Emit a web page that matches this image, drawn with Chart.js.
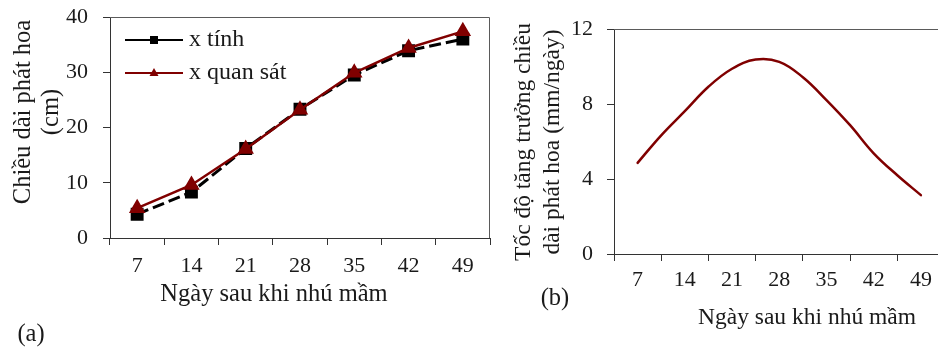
<!DOCTYPE html>
<html>
<head>
<meta charset="utf-8">
<script src="https://cdn.jsdelivr.net/npm/chart.js@4"></script>
<style>
  html, body { margin: 0; padding: 0; background: #fff; overflow: hidden; }
  body { width: 938px; height: 349px; position: relative; }
  .box { position: absolute; top: 0; height: 349px; }
  .lbl {
    position: absolute; white-space: nowrap; text-align: center;
    font-family: 'Liberation Serif', 'Times New Roman', serif;
    font-size: 24.5px; color: #1a1a1a; transform: translate(-50%, -50%);
  }
  .rot { transform: translate(-50%, -50%) rotate(-90deg); line-height: 28px; }
  .sm { font-size: 23.5px; }
</style>
</head>
<body>

<div class="box" style="left:0; width:500px;"><canvas id="chartA"></canvas></div>
<div class="box" style="left:500px; width:450px;"><canvas id="chartB"></canvas></div>

<div class="lbl rot" style="left:36px; top:112px;">Chiều dài phát hoa<br>(cm)</div>
<div class="lbl" style="left:274px; top:293px;">Ngày sau khi nhú mầm</div>
<div class="lbl" style="left:31px; top:333px;">(a)</div>

<div class="lbl rot sm" style="left:537px; top:142px; line-height:29px;">Tốc độ tăng trưởng chiều<br>dài phát hoa (mm/ngày)</div>
<div class="lbl sm" style="left:807px; top:316px;">Ngày sau khi nhú mầm</div>
<div class="lbl" style="left:555px; top:297px;">(b)</div>

<script>
// --- DADOS ---
const dayLabels = ['7', '14', '21', '28', '35', '42', '49'];
const lengthCalc = [4.3, 8.3, 16.2, 23.3, 29.5, 33.9, 36.0];   // x tính
const lengthObs = [5.4, 9.6, 16.1, 23.2, 29.9, 34.4, 37.4];    // x quan sát
const lengthTicks = [0, 10, 20, 30, 40];

const rateDays = [7, 10.5, 14, 17.5, 21, 24.5, 28, 31.5, 35, 38.5, 42, 45.5, 49];
const rateValues = [4.86, 6.33, 7.62, 8.92, 9.88, 10.37, 10.25, 9.43, 8.21, 6.87, 5.37, 4.2, 3.14];
const rateTicks = [0, 4, 8, 12];

const ink = '#1a1a1a';
const darkRed = '#800000';
const serif = "'Liberation Serif', 'Times New Roman', serif";

// moldura superior/direita da área do gráfico
const plotFrame = {
  id: 'plotFrame',
  afterDraw(chart, args, opts) {
    const { ctx, chartArea: a } = chart;
    ctx.save();
    ctx.strokeStyle = opts.color || '#666';
    ctx.lineWidth = 1;
    ctx.beginPath();
    const top = Math.round(a.top) + 0.5;
    const right = Math.round(a.right) - 0.5;
    ctx.moveTo(a.left, top);
    ctx.lineTo(right, top);
    ctx.lineTo(right, a.bottom);
    ctx.stroke();
    ctx.restore();
  }
};

// legenda com linha + marcador, dentro da área
const lineLegend = {
  id: 'lineLegend',
  afterDraw(chart, args, opts) {
    if (!opts.show) return;
    const { ctx, chartArea: a } = chart;
    ctx.save();
    chart.data.datasets.forEach((ds, i) => {
      const y = a.top + 23 + i * 33;
      const x0 = a.left + 15, x1 = a.left + 73, xm = (x0 + x1) / 2;
      ctx.strokeStyle = ds.borderColor;
      ctx.lineWidth = 2;
      ctx.beginPath();
      ctx.moveTo(x0, y);
      ctx.lineTo(x1, y);
      ctx.stroke();
      ctx.fillStyle = ds.pointBackgroundColor;
      ctx.beginPath();
      if (ds.pointStyle === 'triangle') {
        ctx.moveTo(xm, y - 5);
        ctx.lineTo(xm + 4.5, y + 3);
        ctx.lineTo(xm - 4.5, y + 3);
        ctx.closePath();
      } else {
        ctx.rect(xm - 4, y - 4, 8, 8);
      }
      ctx.fill();
      ctx.fillStyle = ink;
      ctx.font = '24px ' + serif;
      ctx.textBaseline = 'middle';
      ctx.fillText(ds.label, x1 + 6, y);
    });
    ctx.restore();
  }
};

const tickFont = { family: serif, size: 22 };

// sem folga extra das escalas: a área fica onde o padding manda
const fixY = width => s => { s.width = width; s.paddingTop = 0; s.paddingBottom = 0; };
const fixX = height => s => { s.height = height; s.paddingLeft = 0; s.paddingRight = 0; };

// --- (a) comprimento ---
new Chart(document.getElementById('chartA'), {
  type: 'line',
  data: {
    labels: dayLabels,
    datasets: [
      {
        label: 'x tính',
        data: lengthCalc,
        borderColor: '#000',
        backgroundColor: '#000',
        pointBackgroundColor: '#000',
        pointBorderColor: '#000',
        pointStyle: 'rect',
        pointRadius: 7,
        borderWidth: 3,
        borderDash: [12, 5],
        tension: 0,
        order: 1
      },
      {
        label: 'x quan sát',
        data: lengthObs,
        borderColor: darkRed,
        backgroundColor: darkRed,
        pointBackgroundColor: darkRed,
        pointBorderColor: darkRed,
        pointStyle: 'triangle',
        pointRadius: 7,
        borderWidth: 2.5,
        tension: 0,
        order: 0
      }
    ]
  },
  options: {
    responsive: true,
    maintainAspectRatio: false,
    animation: false,
    layout: { padding: { top: 17, right: 9, left: 0, bottom: 0 } },
    plugins: {
      legend: { display: false },
      tooltip: { enabled: false },
      plotFrame: { color: '#5a5a5a' },
      lineLegend: { show: true }
    },
    scales: {
      x: {
        offset: true,
        grid: { offset: true, drawOnChartArea: false, tickLength: 7, tickColor: '#333' },
        border: { color: '#333' },
        ticks: { font: tickFont, color: ink, padding: 8, maxRotation: 0 },
        afterFit: fixX(111)
      },
      y: {
        min: 0,
        max: 40,
        afterBuildTicks: s => { s.ticks = lengthTicks.map(v => ({ value: v })); },
        grid: { drawOnChartArea: false, tickLength: 7, tickColor: '#333' },
        border: { color: '#333' },
        ticks: { font: tickFont, color: ink, padding: 15 },
        afterFit: fixY(110)
      }
    }
  },
  plugins: [plotFrame, lineLegend]
});

// --- (b) taxa de crescimento ---
new Chart(document.getElementById('chartB'), {
  type: 'line',
  data: {
    labels: dayLabels,
    datasets: [{
      label: 'rate',
      data: rateDays.map((d, i) => ({ x: d, y: rateValues[i] })),
      xAxisID: 'xl',
      borderColor: darkRed,
      borderWidth: 2.5,
      pointRadius: 0,
      tension: 0.4,
      borderCapStyle: 'round'
    }]
  },
  options: {
    responsive: true,
    maintainAspectRatio: false,
    animation: false,
    layout: { padding: { top: 29, right: 5.5, left: 0, bottom: 0 } },
    plugins: {
      legend: { display: false },
      tooltip: { enabled: false },
      plotFrame: { color: '#5a5a5a' },
      lineLegend: { show: false }
    },
    scales: {
      x: {
        type: 'category',
        offset: true,
        grid: { offset: true, drawOnChartArea: false, tickLength: 7, tickColor: '#333' },
        border: { color: '#333' },
        ticks: { font: tickFont, color: ink, padding: 6, maxRotation: 0 },
        afterFit: fixX(95)
      },
      xl: {
        type: 'linear',
        display: false,
        min: 3.5,
        max: 52.5
      },
      y: {
        min: 0,
        max: 12,
        afterBuildTicks: s => { s.ticks = rateTicks.map(v => ({ value: v })); },
        grid: { drawOnChartArea: false, tickLength: 7, tickColor: '#333' },
        border: { color: '#333' },
        ticks: { font: tickFont, color: ink, padding: 14 },
        afterFit: fixY(114)
      }
    }
  },
  plugins: [plotFrame, lineLegend]
});
</script>
</body>
</html>
